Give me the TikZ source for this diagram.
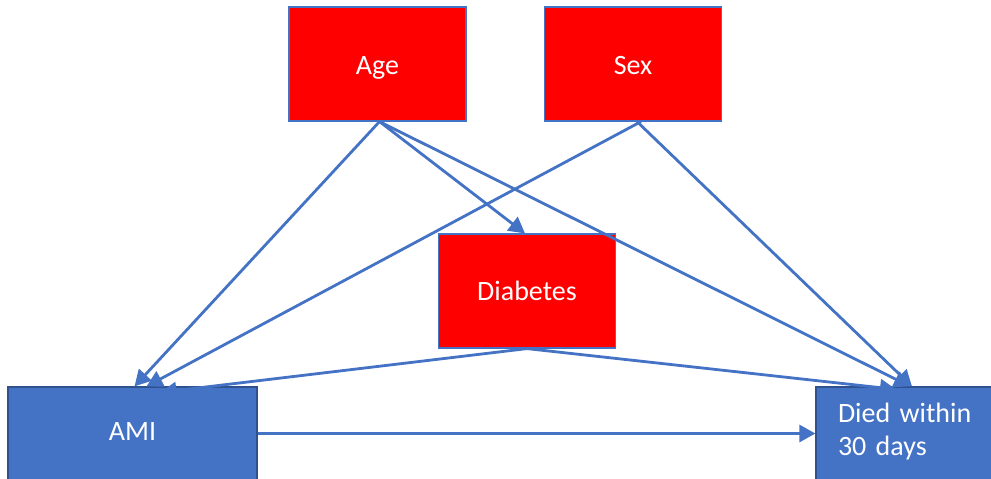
\documentclass[tikz,border=0pt]{standalone}
\usepackage{fontspec}
\setmainfont{Carlito}
\definecolor{dagRed}{HTML}{FF0000}
\definecolor{dagBlue}{HTML}{4472C4}
\definecolor{dagEdge}{HTML}{2F528F}
\usetikzlibrary{arrows.meta}

\begin{document}
\begin{tikzpicture}[
    x=1pt, y=-1pt,
    cause/.style={
      draw=dagBlue,
      fill=dagRed,
      text=white,
      minimum width=177pt,
      minimum height=114pt,
      text height=20pt,
      text depth=0pt,
      font=\fontsize{28}{34}\selectfont,
      line width=1.2pt,
    },
    outcome/.style={
      draw=dagEdge,
      fill=dagBlue,
      text=white,
      minimum height=93pt,
      font=\fontsize{28}{34}\selectfont,
      line width=1.2pt,
    },
    arr/.style={-{Triangle[length=16pt,width=17pt]}, dagBlue, line width=2.8pt},
  ]
    \useasboundingbox (0,0) rectangle (991,479);

    % confounders
    \node[cause] (age) at (377.5,64) {Age};
    \node[cause] (sex) at (633,64) {Sex};
    \node[cause, text height=18pt] (diab) at (527,291) {Diabetes};

    % exposure and outcome
    \node[outcome, minimum width=249pt, text height=14pt, text depth=0pt] (ami) at (132.5,433.5) {AMI};
    \node[outcome, minimum width=184pt, text width=140pt, inner xsep=22pt, align=left] (died) at (908,433.5) {Died within\\[-1pt]30 days\\[-26pt]\mbox{}};

    % arrows
    \draw[arr] ([xshift=2pt]age.south) -- ([xshift=2pt]ami.north);
    \draw[arr] ([xshift=2pt]age.south) -- ([xshift=-2pt]diab.north);
    \draw[arr] ([xshift=2pt]age.south) -- ([xshift=2pt]died.north);
    \draw[arr] ([xshift=8pt]sex.south) -- ([xshift=14pt]ami.north);
    \draw[arr] ([xshift=4pt]sex.south) -- ([xshift=4pt]died.north);
    \draw[arr] (diab.south) -- ([xshift=28pt,yshift=-6pt]ami.north);
    \draw[arr] (diab.south) -- ([xshift=-12pt,yshift=-3pt]died.north);
    \draw[arr] (ami.east) -- (died.west);
\end{tikzpicture}
\end{document}
